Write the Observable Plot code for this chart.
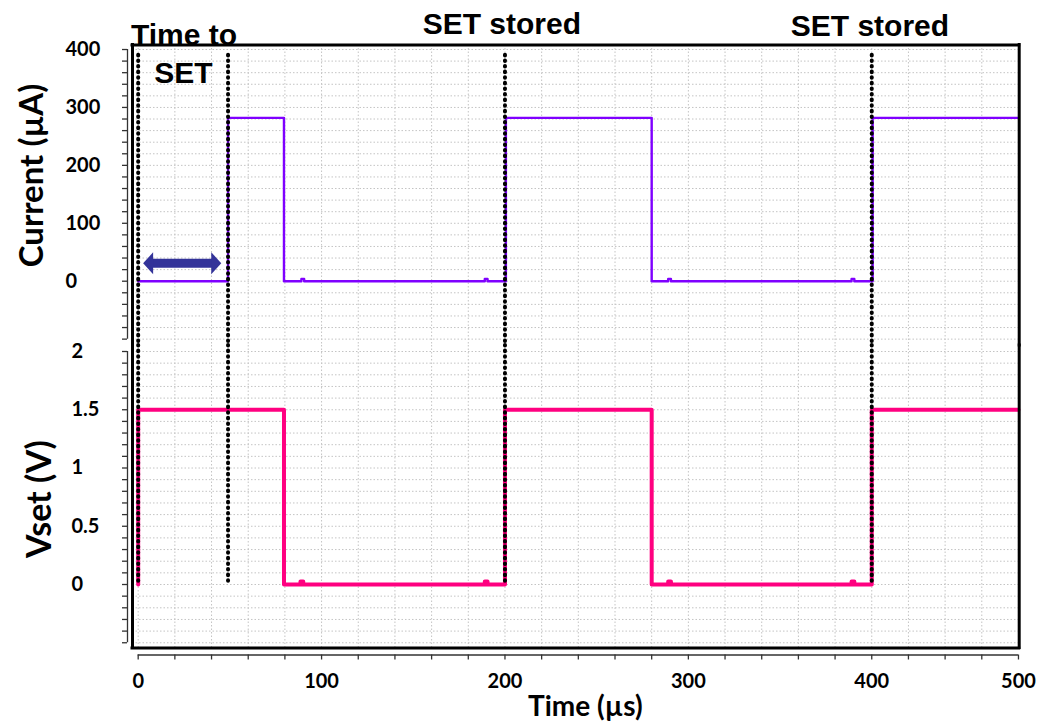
<!DOCTYPE html>
<html>
<head>
<meta charset="utf-8">
<script src="https://cdn.jsdelivr.net/npm/d3@7"></script>
<script src="https://cdn.jsdelivr.net/npm/@observablehq/plot@0.6"></script>
<style>
  html, body { margin: 0; padding: 0; background: #fff; }
  #chart { position: relative; width: 1043px; height: 728px; background: #fff; overflow: hidden; }
  #chart svg { position: absolute; left: 0; }
  #chart .marker-dots, #chart .marker-dots line { stroke-linecap: round !important; stroke-width: 4px !important; stroke-dasharray: 0.6,5 !important; }
</style>
</head>
<body>
<div id="chart"></div>
<script>
// ---------- data ----------
// Current trace (µA), step changes at these times (µs)
const currentTime  = [0, 49, 79.5, 89, 90.5, 189, 190.5, 200.5, 280, 289, 290.5, 389, 390.5, 400.5, 480];
const currentValue = [0, 282, 0, 4, 0, 4, 0, 282, 0, 4, 0, 4, 0, 282, 282];
// Vset trace (V)
const vsetTime  = [0, 0, 79.5, 88.5, 90, 189, 190.5, 200, 280, 289, 290.5, 389, 390.5, 400, 480];
const vsetValue = [0, 1.5, 0, 0.025, 0, 0.025, 0, 1.5, 0, 0.025, 0, 0.025, 0, 1.5, 1.5];
// dotted marker lines (µs)
const markerTimes = [0, 49, 200, 400];
// "Time to SET" double arrow (µs, µA)
const arrowFrom = 2.7, arrowTo = 45.3, arrowLevel = 31;
// axis ticks / labels
const xTickValues = [0, 100, 200, 300, 400, 480];
const xTickLabels = ["0", "100", "200", "300", "400", "500"];
const currentTicks = [0, 100, 200, 300, 400];
const vsetTicks = [0, 0.5, 1, 1.5, 2];

// ---------- build ----------
const currentData = currentTime.map((t, i) => ({t, v: currentValue[i]}));
const vsetData = vsetTime.map((t, i) => ({t, v: vsetValue[i]}));

const xDomain = [-3.1, 480.4];
const xMinor = d3.range(0, 481, 20);
const yADomain = [-111, 407.8];
const yBDomain = [-0.545, 2.0515];
const curMinor = d3.range(-100, 401, 20);
const vMinor = d3.range(-5, 21, 1).map(d => d / 10);

const W = 1043, mL = 132, mR = 24.3;
const gridStyle = {stroke: "#c4c4c4", strokeWidth: 1, strokeDasharray: "1.5,2"};
const axisColor = "#333";
const dotStyle = {stroke: "#000", strokeWidth: 4, strokeDasharray: "0.6,5", strokeLinecap: "round", className: "marker-dots"};
const frameStyle = {stroke: "#000", strokeWidth: 3, strokeLinecap: "square"};
const tickFont = {fontFamily: "Lato", fontWeight: "bold", fontSize: 20};
const titleFont = {fontFamily: "Lato", fontWeight: "bold"};
const annFont = {fontFamily: "Liberation Sans, Arial", fontWeight: "bold", fontSize: 30, fill: "#000"};
const purple = "#7F00FF", pink = "#FF0080", navy = "#333399";

const headShape = {
  draw(context, l, r) {
    context.moveTo(0, -l);
    context.lineTo(r, 0);
    context.lineTo(-r, 0);
    context.closePath();
  }
};

const plotA = Plot.plot({
  width: W, height: 345,
  marginLeft: mL, marginRight: mR, marginTop: 44.5, marginBottom: 0,
  style: {background: "transparent", overflow: "visible", fontFamily: "Lato"},
  x: {domain: xDomain, axis: null, label: null},
  y: {domain: yADomain, axis: null, label: null},
  marks: [
    Plot.ruleX(xMinor, gridStyle),
    Plot.ruleY(curMinor, gridStyle),
    // left axis
    Plot.ruleX([xDomain[0]], {y1: -100, y2: 400, dx: -5, stroke: axisColor, strokeWidth: 1.3}),
    Plot.axisY({anchor: "left", label: null, ticks: curMinor, tickSize: 5, dx: -5, stroke: axisColor, fill: "none", strokeWidth: 1.3}),
    Plot.axisY({anchor: "left", label: null, ticks: currentTicks, tickSize: 0, tickPadding: 67, textAnchor: "start", tickFormat: d => String(d), ...tickFont}),
    Plot.text(["Current (µA)"], {frameAnchor: "left", y: 182.5, dx: -90, rotate: -90, textAnchor: "middle", lineAnchor: "bottom", fontSize: 33, ...titleFont}),
    // data
    Plot.line(currentData, {x: "t", y: "v", curve: "step-after", stroke: purple, strokeWidth: 2.4}),
    // arrow
    Plot.ruleY([arrowLevel], {x1: arrowFrom + 4, x2: arrowTo - 4, stroke: navy, strokeWidth: 9}),
    Plot.vector([{x: arrowFrom, r: -90}, {x: arrowTo, r: 90}], {x: "x", y: () => arrowLevel, rotate: "r", length: 10, r: 11, anchor: "end", shape: headShape, fill: navy, stroke: "none"}),
    // dotted markers
    Plot.ruleX(markerTimes, {y1: 390, y2: yADomain[0], ...dotStyle}),
    // frame (top + sides)
    Plot.ruleY([yADomain[1]], {x1: xDomain[0], x2: xDomain[1], ...frameStyle}),
    Plot.ruleX(xDomain, {y1: yADomain[0], y2: yADomain[1], ...frameStyle}),
    // annotations
    Plot.text(["Time to"], {x: 25, y: 408, lineAnchor: "bottom", ...annFont}),
    Plot.text(["SET"], {x: 24.7, y: 342, lineAnchor: "bottom", ...annFont}),
    Plot.text(["SET stored"], {x: 198.3, y: 426, lineAnchor: "bottom", ...annFont}),
    Plot.text(["SET stored"], {x: 399, y: 424, lineAnchor: "bottom", ...annFont})
  ]
});
plotA.style.top = "0px";

const plotB = Plot.plot({
  width: W, height: 383,
  marginLeft: mL, marginRight: mR, marginTop: 0, marginBottom: 80.5,
  style: {background: "transparent", overflow: "visible", fontFamily: "Lato"},
  x: {domain: xDomain, axis: null, label: null},
  y: {domain: yBDomain, axis: null, label: null},
  marks: [
    Plot.ruleX(xMinor, gridStyle),
    Plot.ruleY(vMinor, gridStyle),
    // left axis
    Plot.ruleX([xDomain[0]], {y1: -0.5, y2: 2, dx: -5, stroke: axisColor, strokeWidth: 1.3}),
    Plot.axisY({anchor: "left", label: null, ticks: vMinor, tickSize: 5, dx: -5, stroke: axisColor, fill: "none", strokeWidth: 1.3}),
    Plot.axisY({anchor: "left", label: null, ticks: vsetTicks, tickSize: 0, tickPadding: 61, textAnchor: "start", tickFormat: d => String(d), ...tickFont}),
    Plot.text(["Vset (V)"], {frameAnchor: "left", y: 0.734, dx: -82, rotate: -90, textAnchor: "middle", lineAnchor: "bottom", fontSize: 34, ...titleFont}),
    // bottom axis
    Plot.ruleY([yBDomain[0]], {x1: 0, x2: 480, dy: 7, stroke: axisColor, strokeWidth: 1.3}),
    Plot.axisX({anchor: "bottom", label: null, ticks: xMinor, tickSize: 5, dy: 7, stroke: axisColor, fill: "none", strokeWidth: 1.3}),
    Plot.axisX({anchor: "bottom", label: null, ticks: xTickValues, tickSize: 0, tickPadding: 26, tickFormat: d => xTickLabels[xTickValues.indexOf(d)], ...tickFont}),
    Plot.text(["Time (µs)"], {frameAnchor: "bottom", x: 243.8, dy: 67.5, lineAnchor: "bottom", fontSize: 28, ...titleFont}),
    // data
    Plot.line(vsetData, {x: "t", y: "v", curve: "step-after", stroke: pink, strokeWidth: 4}),
    // dotted markers
    Plot.ruleX(markerTimes, {y1: yBDomain[1], y2: 0, ...dotStyle}),
    // frame (bottom + sides)
    Plot.ruleY([yBDomain[0]], {x1: xDomain[0], x2: xDomain[1], ...frameStyle}),
    Plot.ruleX(xDomain, {y1: yBDomain[0], y2: yBDomain[1], ...frameStyle})
  ]
});
plotB.style.top = "345px";

const chart = document.getElementById("chart");
chart.appendChild(plotA);
chart.appendChild(plotB);
</script>
</body>
</html>
